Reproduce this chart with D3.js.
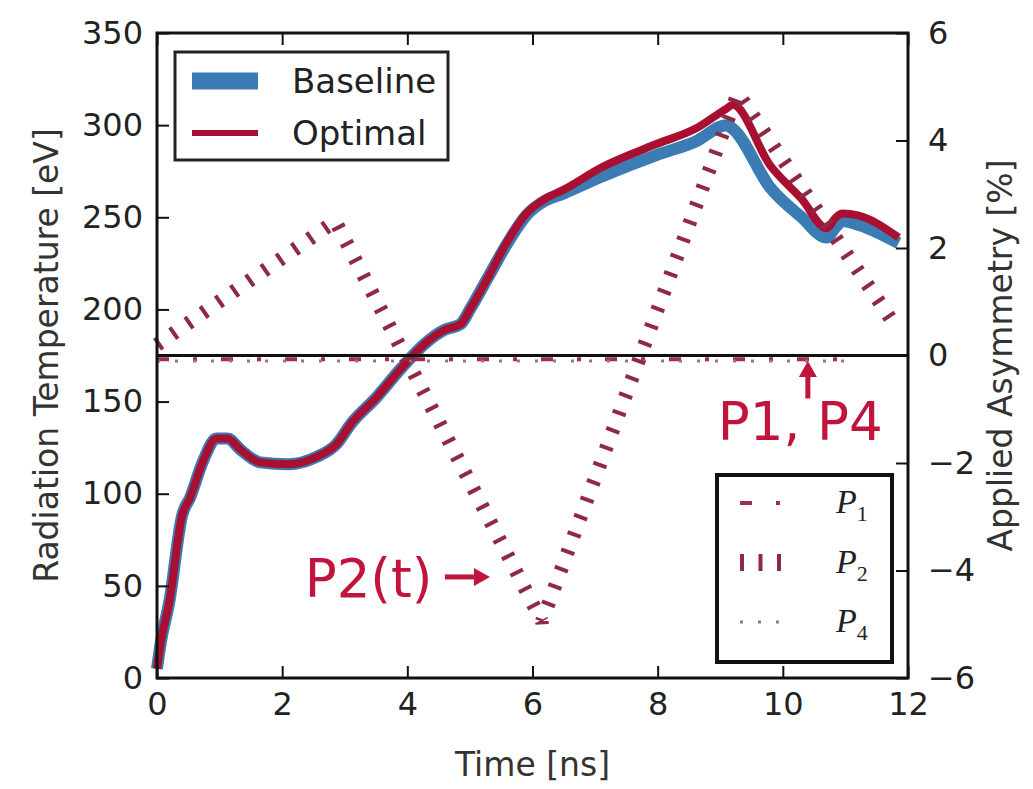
<!DOCTYPE html>
<head>
  <meta charset="utf-8">
  <title>Radiation temperature and applied asymmetry</title>
  <style>
    body { margin: 0; background: #fff; }
    text { font-family: "DejaVu Sans", sans-serif; }
  </style>
</head>
<body>
<script src="https://cdn.jsdelivr.net/npm/d3@7"></script>
<script>
// ---- data ----
var timeNs = [0.0, 0.05, 0.2, 0.4, 0.53, 0.74, 0.95, 1.13, 1.33, 1.65, 2.1, 2.55, 2.87, 3.1, 3.5, 3.9,
              4.3, 4.6, 4.85, 5.0, 5.3, 5.6, 5.9, 6.2, 6.5, 7.1, 8.0, 8.6, 9.1, 9.2, 9.8, 10.3, 10.7,
              10.85, 10.95, 11.2, 11.85];
var baselineTemp = [5, 17, 42, 88, 98, 118, 130, 130, 124, 117, 116, 120, 127, 138, 152, 168,
                    182, 189, 192, 200, 218, 236, 251, 259, 263, 272, 284, 291, 300, 298, 266, 250, 239,
                    245, 248, 246, 236];
var optimalTemp  = [5, 17, 42, 88, 98, 118, 130, 130, 124, 117, 116, 120, 127, 138, 152, 168,
                    182, 189, 192, 200, 218, 237, 252, 260, 265, 277, 290, 298, 309, 311, 278, 260, 244,
                    250, 252, 251, 239];

// applied asymmetry [%]
var p2Time  = [0, 2.85, 6.15, 9.28, 11.8];
var p2Value = [0.2, 2.5, -4.95, 4.88, 0.55];
var p1Time  = [0, 3, 6, 9, 11.2];
var p1Value = [-0.07, -0.07, -0.07, -0.07, -0.07];
var p4Time  = [0, 3, 6, 9, 11.0];
var p4Value = [-0.1, -0.1, -0.1, -0.1, -0.1];

var xTicks = [0, 2, 4, 6, 8, 10, 12];
var yLeftTicks = [0, 50, 100, 150, 200, 250, 300, 350];
var yRightTicks = [-6, -4, -2, 0, 2, 4, 6];

var tempLegend = ["Baseline", "Optimal"];
var asymLegend = ["1", "2", "4"];

// ---- layout ----
var W = 1033, H = 789;
var plot = {left: 157, right: 908, top: 33, bottom: 678};

var x = d3.scaleLinear().domain([0, 12]).range([plot.left, plot.right]);
var yL = d3.scaleLinear().domain([0, 350]).range([plot.bottom, plot.top]);
var yR = d3.scaleLinear().domain([-6, 6]).range([plot.bottom, plot.top]);

var blue = "#3b7cb5", red = "#a80f30", annot = "#c0143c";
var p2Color = "#8e2a46", p1Color = "#a0304a", p4Color = "#a07080";

var svg = d3.select("body").append("svg")
    .attr("width", W)
    .attr("height", H);

svg.append("rect").attr("width", W).attr("height", H).attr("fill", "#fff");

// temperature curves (left axis)
var tempLine = function(vals) {
  return d3.line()
    .x(function(d, i) { return x(timeNs[i]); })
    .y(function(d) { return yL(d); })
    .curve(d3.curveMonotoneX)(vals);
};

svg.append("path")
    .attr("d", tempLine(baselineTemp))
    .attr("fill", "none")
    .attr("stroke", blue)
    .attr("stroke-width", 12)
    .attr("stroke-linejoin", "round");

svg.append("path")
    .attr("d", tempLine(optimalTemp))
    .attr("fill", "none")
    .attr("stroke", red)
    .attr("stroke-width", 8)
    .attr("stroke-linejoin", "round");

// asymmetry curves (right axis)
function asymLine(ts, vs) {
  return d3.line()
    .x(function(d, i) { return x(ts[i]); })
    .y(function(d) { return yR(d); })(vs);
}

svg.append("path")
    .attr("d", asymLine(p1Time, p1Value))
    .attr("fill", "none")
    .attr("stroke", p1Color)
    .attr("stroke-width", 4)
    .attr("stroke-dasharray", "12,24,4,24");

svg.append("path")
    .attr("d", asymLine(p4Time, p4Value))
    .attr("fill", "none")
    .attr("stroke", p4Color)
    .attr("stroke-width", 3)
    .attr("stroke-dasharray", "3,15");

svg.append("path")
    .attr("d", asymLine(p2Time, p2Value))
    .attr("fill", "none")
    .attr("stroke", p2Color)
    .attr("stroke-width", 14)
    .attr("stroke-linejoin", "bevel")
    .attr("stroke-dasharray", "4,14.5");

// zero line of the asymmetry axis
svg.append("line")
    .attr("x1", plot.left).attr("x2", plot.right)
    .attr("y1", yR(0)).attr("y2", yR(0))
    .attr("stroke", "#111")
    .attr("stroke-width", 3);

// ---- axes (ticks point inward, classic matplotlib) ----
function styleAxis(g) {
  g.select(".domain").remove();
  g.selectAll(".tick line").attr("stroke", "#111").attr("stroke-width", 2);
  g.selectAll(".tick text")
      .attr("fill", "#222")
      .style("font-size", "32px")
      .style("font-family", "DejaVu Sans, sans-serif");
}

svg.append("g")
    .attr("transform", "translate(0," + plot.bottom + ")")
    .call(d3.axisBottom(x).tickValues(xTicks).tickSizeInner(-12).tickSizeOuter(0).tickPadding(14))
    .call(styleAxis);

svg.append("g")
    .attr("transform", "translate(0," + plot.top + ")")
    .call(d3.axisTop(x).tickValues(xTicks).tickSizeInner(-12).tickSizeOuter(0).tickFormat(""))
    .call(styleAxis);

svg.append("g")
    .attr("transform", "translate(" + plot.left + ",0)")
    .call(d3.axisLeft(yL).tickValues(yLeftTicks).tickSizeInner(-12).tickSizeOuter(0).tickPadding(14))
    .call(styleAxis);

svg.append("g")
    .attr("transform", "translate(" + plot.right + ",0)")
    .call(d3.axisRight(yR).tickValues(yRightTicks).tickSizeInner(-12).tickSizeOuter(0).tickPadding(20)
      .tickFormat(function(d) { return d < 0 ? "\u2212" + Math.abs(d) : d; }))
    .call(styleAxis);

// frame
svg.append("rect")
    .attr("x", plot.left).attr("y", plot.top)
    .attr("width", plot.right - plot.left)
    .attr("height", plot.bottom - plot.top)
    .attr("fill", "none")
    .attr("stroke", "#111")
    .attr("stroke-width", 3);

// axis titles
svg.append("text")
    .attr("transform", "translate(58," + (plot.top + plot.bottom) / 2 + ") rotate(-90)")
    .attr("text-anchor", "middle")
    .attr("fill", "#333")
    .style("font-size", "33px")
    .text("Radiation Temperature [eV]");

svg.append("text")
    .attr("transform", "translate(1012," + (plot.top + plot.bottom) / 2 + ") rotate(-90)")
    .attr("text-anchor", "middle")
    .attr("fill", "#333")
    .style("font-size", "33px")
    .text("Applied Asymmetry [%]");

svg.append("text")
    .attr("x", (plot.left + plot.right) / 2)
    .attr("y", 776)
    .attr("text-anchor", "middle")
    .attr("fill", "#333")
    .style("font-size", "33px")
    .text("Time [ns]");

// ---- annotations ----
function arrow(x0, y0, x1, y1) {
  var dx = x1 - x0, dy = y1 - y0, len = Math.sqrt(dx * dx + dy * dy);
  var ux = dx / len, uy = dy / len, head = 16, half = 9;
  var bx = x1 - ux * head, by = y1 - uy * head;
  svg.append("line")
      .attr("x1", x0).attr("y1", y0).attr("x2", bx).attr("y2", by)
      .attr("stroke", annot).attr("stroke-width", 5);
  svg.append("path")
      .attr("d", "M" + x1 + "," + y1 +
                 "L" + (bx - uy * half) + "," + (by + ux * half) +
                 "L" + (bx + uy * half) + "," + (by - ux * half) + "Z")
      .attr("fill", annot);
}

svg.append("text")
    .attr("x", x(2.36)).attr("y", yR(-4.49))
    .attr("fill", annot)
    .style("font-size", "53px")
    .text("P2(t)");
arrow(x(4.6), yR(-4.12), x(5.32), yR(-4.12));

svg.append("text")
    .attr("x", x(8.96)).attr("y", yR(-1.58))
    .attr("fill", annot)
    .style("font-size", "53px")
    .text("P1, P4");
arrow(x(10.4), yR(-0.8), x(10.4), yR(-0.1));

// ---- legend: temperature ----
var leg1 = svg.append("g");
leg1.append("rect")
    .attr("x", 175).attr("y", 52).attr("width", 273).attr("height", 108)
    .attr("fill", "#fff").attr("stroke", "#222").attr("stroke-width", 3);

leg1.selectAll(".row")
    .data(tempLegend)
  .enter().append("g")
    .attr("transform", function(d, i) { return "translate(0," + (81 + i * 52) + ")"; })
    .each(function(d, i) {
      var g = d3.select(this);
      g.append("line")
          .attr("x1", 192).attr("x2", 258)
          .attr("stroke", i === 0 ? blue : red)
          .attr("stroke-width", i === 0 ? 17 : 6);
      g.append("text")
          .attr("x", 292).attr("y", 12)
          .attr("fill", "#222")
          .style("font-size", "34px")
          .text(d);
    });

// ---- legend: asymmetry ----
var leg2 = svg.append("g");
leg2.append("rect")
    .attr("x", 717).attr("y", 475).attr("width", 175).attr("height", 187)
    .attr("fill", "#fff").attr("stroke", "#111").attr("stroke-width", 4);

var legStyles = [
  {color: p1Color, width: 4, dash: "12,24,4,24"},
  {color: p2Color, width: 17, dash: "4,14.5"},
  {color: p4Color, width: 3, dash: "3,15"}
];

leg2.selectAll(".row")
    .data(asymLegend)
  .enter().append("g")
    .attr("transform", function(d, i) { return "translate(0," + (503 + i * 59.5) + ")"; })
    .each(function(d, i) {
      var g = d3.select(this), s = legStyles[i];
      g.append("line")
          .attr("x1", 740).attr("x2", 785)
          .attr("stroke", s.color)
          .attr("stroke-width", s.width)
          .attr("stroke-dasharray", s.dash);
      var t = g.append("text")
          .attr("x", 836).attr("y", 10)
          .attr("fill", "#222")
          .style("font-family", "Liberation Serif, serif")
          .style("font-style", "italic")
          .style("font-size", "34px");
      t.append("tspan").text("P");
      t.append("tspan").attr("dy", 8).style("font-size", "22px").style("font-style", "normal").text(d);
    });
</script>
</body>
